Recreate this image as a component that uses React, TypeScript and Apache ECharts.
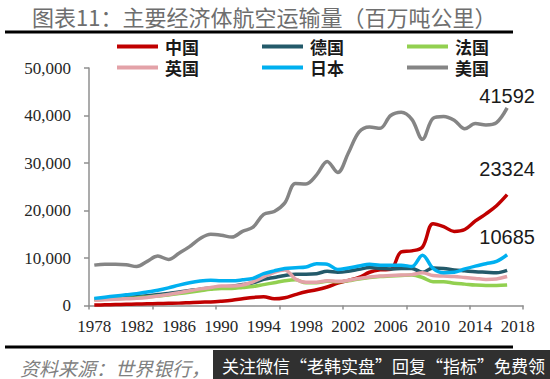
import React, { useEffect, useRef } from "react";
import * as echarts from "echarts";

const years = [
  "1978", "1979", "1980", "1981", "1982", "1983", "1984", "1985", "1986", "1987",
  "1988", "1989", "1990", "1991", "1992", "1993", "1994", "1995", "1996", "1997",
  "1998", "1999", "2000", "2001", "2002", "2003", "2004", "2005", "2006", "2007",
  "2008", "2009", "2010", "2011", "2012", "2013", "2014", "2015", "2016", "2017",
  "2018",
];

const yTicks = [0, 10000, 20000, 30000, 40000, 50000];

const china = [
  100, 150, 200, 250, 300, 350, 400, 450, 500, 600,
  700, 750, 900, 1100, 1400, 1700, 1850, 1400, 1650, 2300,
  2900, 3300, 3900, 4700, 5300, 5900, 7000, 7500, 7600, 11300,
  11500, 12300, 17200, 16600, 15600, 16000, 17800, 19300, 21000, 23324,
];
const germany = [
  1300, 1450, 1600, 1700, 1850, 2050, 2300, 2550, 2850, 3150,
  3450, 3700, 3900, 4050, 4400, 4800, 5500, 5900, 6300, 6600,
  6600, 6700, 7200, 7000, 7200, 7600, 8000, 7800, 7700, 7800,
  7800, 7000, 7900, 7800, 7500, 7300, 7100, 7000, 6900, 7400,
];
const france = [
  1200, 1300, 1400, 1500, 1600, 1800, 2000, 2200, 2500, 2800,
  3100, 3400, 3600, 3600, 3800, 4000, 4400, 4800, 5200, 5400,
  4800, 4800, 5100, 5000, 5200, 5600, 5900, 6100, 6200, 6300,
  6400, 5900, 5000, 5000, 4700, 4500, 4300, 4200, 4200, 4300,
];
const uk = [
  1100, 1200, 1300, 1400, 1500, 1700, 2000, 2300, 2700, 3100,
  3500, 3800, 4100, 4100, 4300, 5000, 6000, 7000, 7500, 5600,
  4900, 4900, 5200, 5100, 5300, 5700, 6000, 6200, 6300, 6400,
  6500, 6900, 6300, 6200, 6100, 5900, 5700, 5500, 5600, 6100,
];
const japan = [
  1500, 1750, 2000, 2250, 2500, 2850, 3200, 3700, 4300, 4800,
  5150, 5300, 5200, 5200, 5400, 5700, 6700, 7300, 7800, 7950,
  8100, 8800, 8700, 7600, 7900, 8300, 8700, 8500, 8500, 8500,
  8200, 10600, 7800, 6900, 7000, 7700, 8300, 8800, 9300, 10685,
];
const usa = [
  8500, 8700, 8700, 8600, 8200, 9300, 10400, 9700, 11000, 12400,
  14100, 15000, 14800, 14400, 15600, 16500, 19200, 19800, 21600, 25700,
  25600, 27500, 30300, 28000, 32100, 36500, 37600, 37300, 40000, 40700,
  39200, 35000, 39400, 39800, 39000, 37200, 38300, 38000, 38500, 41592,
];

const seriesNames = ["中国", "德国", "法国", "英国", "日本", "美国"];
const seriesValues = [china, germany, france, uk, japan, usa];
const seriesColors = ["#C00000", "#235A6A", "#92D050", "#E3A2A8", "#00B0F0", "#858585"];
// distance of the end value label above the last point (only for labelled series)
const endLabelDistance: Record<string, number> = { 中国: 15, 日本: 7, 美国: 1 };

const legendColumns = [
  ["中国", "英国"],
  ["德国", "日本"],
  ["法国", "美国"],
];
const legendLefts = [117, 262, 407];

const title = "图表11：主要经济体航空运输量（百万吨公里）";
const source = "资料来源：世界银行，";
const watermark = "关注微信“老韩实盘”回复“指标”免费领";

const CJK = '"Noto Sans CJK SC", "Noto Sans", sans-serif';
const SERIF = '"Liberation Serif", "DejaVu Serif", serif';

export default function App() {
  const ref = useRef<HTMLDivElement>(null);

  useEffect(() => {
    if (!ref.current) return;
    const chart = echarts.init(ref.current, undefined, { renderer: "svg" });

    const series = seriesNames.map((name, i) => {
      const data = seriesValues[i];
      const s: any = {
        name,
        type: "line",
        data,
        color: seriesColors[i],
        smooth: 0.35,
        showSymbol: false,
        symbol: "none",
        lineStyle: { width: 3.5, color: seriesColors[i] },
        z: 2 + i,
      };
      if (endLabelDistance[name] !== undefined) {
        const last = data.length - 1;
        s.markPoint = {
          silent: true,
          symbol: "circle",
          symbolSize: 1,
          itemStyle: { color: "rgba(0,0,0,0)" },
          label: {
            show: true,
            position: "top",
            distance: endLabelDistance[name],
            formatter: "{c}",
            color: "#1a1a1a",
            fontSize: 20,
            fontFamily: '"Liberation Sans", Arial, sans-serif',
          },
          data: [{ coord: [last, data[last]], value: data[last] }],
        };
      }
      return s;
    });

    const legends = legendColumns.map((col, i) => ({
      orient: "vertical",
      left: legendLefts[i],
      top: 38,
      padding: 0,
      data: col,
      icon: "rect",
      itemWidth: 41,
      itemHeight: 4,
      itemGap: 4,
      selectedMode: false,
      textStyle: {
        fontFamily: CJK,
        fontSize: 17,
        fontWeight: "bold",
        color: "#1a1a1a",
        lineHeight: 17,
        padding: [0, 0, 0, 2],
      },
    }));

    chart.setOption({
      animation: false,
      backgroundColor: "#ffffff",
      grid: { left: 89, right: 27, top: 68, bottom: 73.5, containLabel: false },
      legend: legends,
      xAxis: {
        type: "category",
        data: years,
        boundaryGap: true,
        axisLine: { show: true, lineStyle: { color: "#8f8f8f", width: 1.5 } },
        axisTick: { show: true, interval: 5, length: 4, lineStyle: { color: "#8f8f8f", width: 1.5 } },
        axisLabel: {
          interval: 3,
          margin: 12,
          fontFamily: SERIF,
          fontSize: 17,
          color: "#262626",
        },
        splitLine: { show: false },
      },
      yAxis: {
        type: "value",
        min: yTicks[0],
        max: yTicks[yTicks.length - 1],
        interval: yTicks[1] - yTicks[0],
        axisLine: { show: true, lineStyle: { color: "#8f8f8f", width: 1.5 } },
        axisTick: { show: true, length: 5, lineStyle: { color: "#8f8f8f", width: 1.5 } },
        axisLabel: {
          margin: 18,
          fontFamily: SERIF,
          fontSize: 17,
          color: "#262626",
          formatter: (v: number) => v.toLocaleString("en-US"),
        },
        splitLine: { show: false },
      },
      series,
      graphic: [
        {
          type: "text",
          x: 32,
          y: 16,
          style: {
            text: title,
            fontFamily: CJK,
            fontSize: 22,
            lineHeight: 24,
            verticalAlign: "middle",
            fill: "#6e6e6e",
          },
        },
        {
          type: "line",
          shape: { x1: 5, y1: 32, x2: 513, y2: 32 },
          style: { stroke: "#000", lineWidth: 3 },
        },
        {
          type: "line",
          shape: { x1: 5, y1: 347, x2: 513, y2: 347 },
          style: { stroke: "#000", lineWidth: 3 },
        },
        {
          type: "text",
          x: 20,
          y: 367,
          style: {
            text: source,
            fontFamily: CJK,
            fontSize: 19,
            fontStyle: "italic",
            verticalAlign: "middle",
            fill: "#808080",
          },
        },
        {
          type: "rect",
          shape: { x: 213, y: 350, width: 337, height: 29 },
          style: { fill: "rgba(32,32,32,0.93)" },
          z: 100,
        },
        {
          type: "text",
          x: 222,
          y: 365,
          z: 101,
          style: {
            text: watermark,
            fontFamily: CJK,
            fontSize: 17,
            fill: "#ffffff",
            verticalAlign: "middle",
          },
        },
      ],
    });

    return () => chart.dispose();
  }, []);

  return (
    <div
      ref={ref}
      style={{ position: "fixed", left: 0, top: 0, width: 550, height: 379, background: "#fff" }}
    />
  );
}
